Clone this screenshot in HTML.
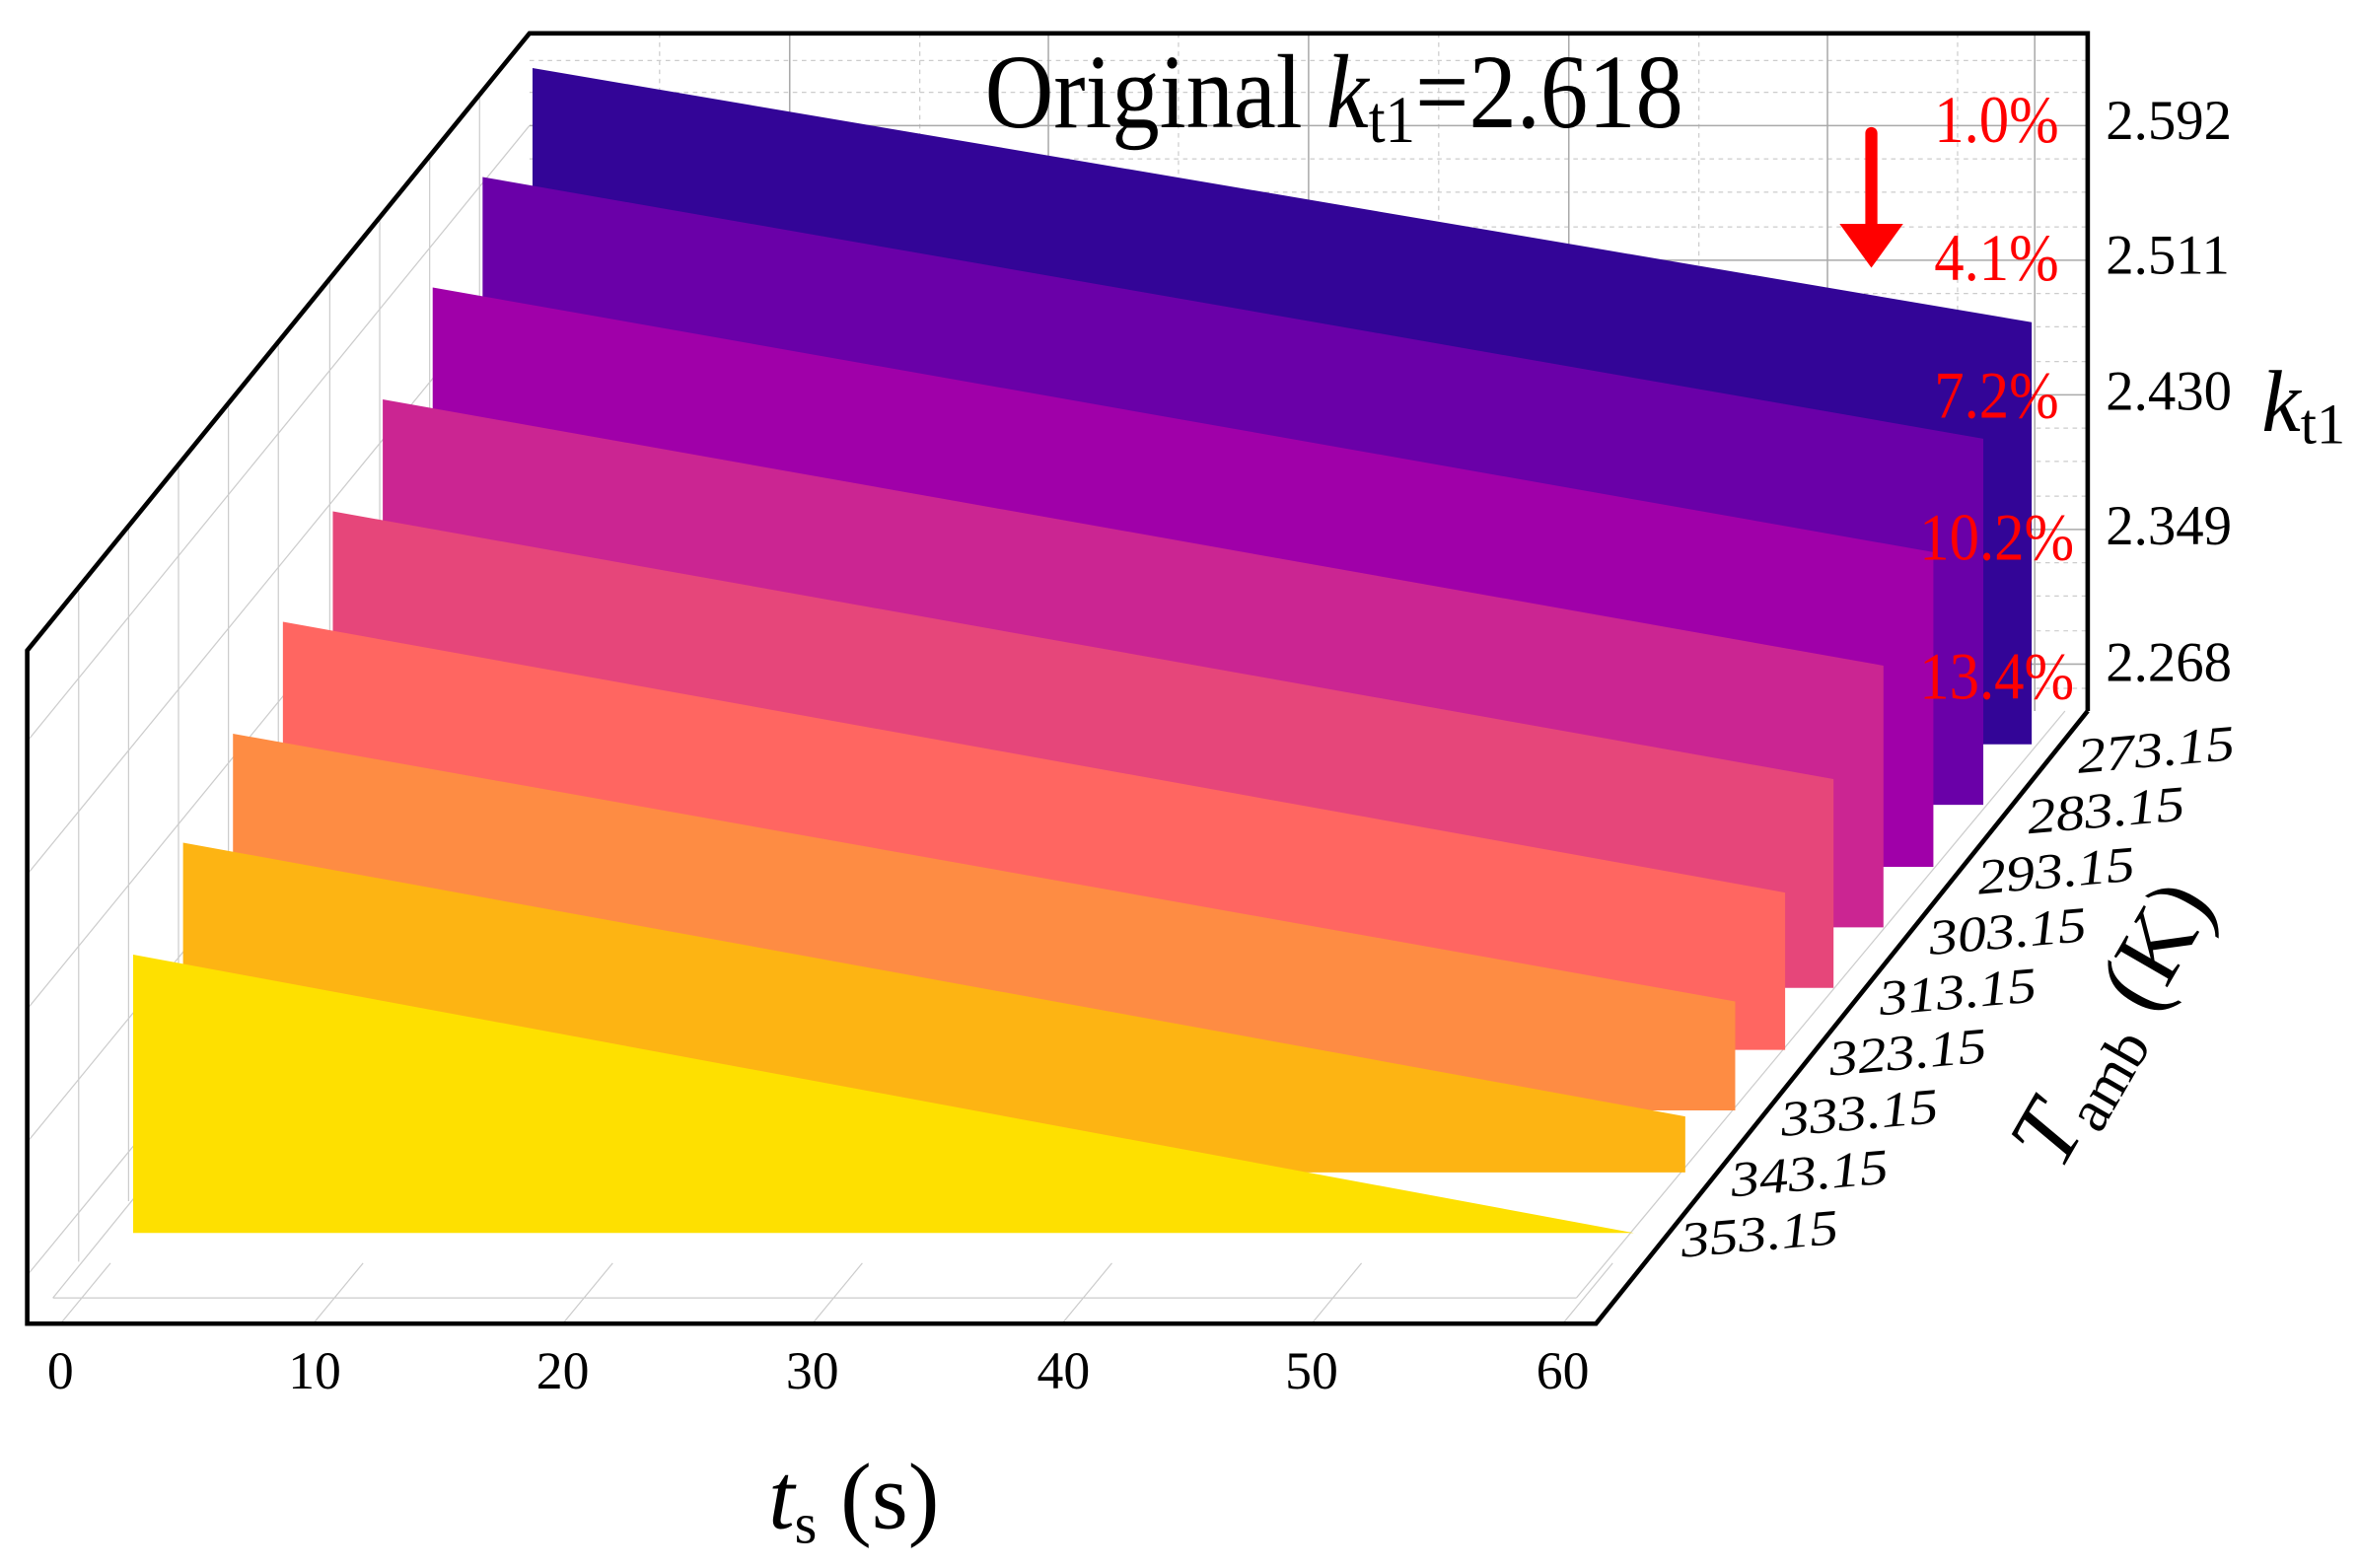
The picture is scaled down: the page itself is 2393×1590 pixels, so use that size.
<!DOCTYPE html>
<html><head><meta charset="utf-8"><style>
html,body{margin:0;padding:0;background:#fff;}
svg{display:block;}
text{font-family:"Liberation Serif",serif;}
</style></head><body>
<svg width="2393" height="1590" viewBox="0 0 1560 1036.5" xmlns="http://www.w3.org/2000/svg">
<rect width="1560" height="1036.5" fill="#fff"/>
<!-- back wall grid -->
<g stroke="#ccc" stroke-width="0.8" stroke-dasharray="3,3">
<line x1="350" y1="40" x2="1380" y2="40"/><line x1="350" y1="61" x2="1380" y2="61"/>
<line x1="350" y1="105" x2="1380" y2="105"/><line x1="350" y1="127" x2="1380" y2="127"/><line x1="350" y1="150" x2="1380" y2="150"/>
<line x1="350" y1="194" x2="1380" y2="194"/><line x1="350" y1="216" x2="1380" y2="216"/><line x1="350" y1="239" x2="1380" y2="239"/>
<line x1="350" y1="283" x2="1380" y2="283"/><line x1="350" y1="305" x2="1380" y2="305"/><line x1="350" y1="328" x2="1380" y2="328"/>
<line x1="350" y1="372" x2="1380" y2="372"/><line x1="350" y1="394" x2="1380" y2="394"/><line x1="350" y1="417" x2="1380" y2="417"/>
<line x1="350" y1="455" x2="1380" y2="455"/>
<line x1="436" y1="22" x2="436" y2="470"/><line x1="608" y1="22" x2="608" y2="470"/><line x1="779" y1="22" x2="779" y2="470"/>
<line x1="951" y1="22" x2="951" y2="470"/><line x1="1123" y1="22" x2="1123" y2="470"/><line x1="1294" y1="22" x2="1294" y2="470"/>
</g>
<g stroke="#aaa" stroke-width="1">
<line x1="350" y1="83" x2="1380" y2="83"/><line x1="350" y1="172" x2="1380" y2="172"/><line x1="350" y1="261" x2="1380" y2="261"/>
<line x1="350" y1="350" x2="1380" y2="350"/><line x1="350" y1="439" x2="1380" y2="439"/>
<line x1="522" y1="22" x2="522" y2="470"/><line x1="693" y1="22" x2="693" y2="470"/><line x1="865" y1="22" x2="865" y2="470"/>
<line x1="1037" y1="22" x2="1037" y2="470"/><line x1="1208" y1="22" x2="1208" y2="470"/>
<line x1="1345" y1="22" x2="1345" y2="470"/>
</g>
<!-- left wall grid -->
<g stroke="#ccc" stroke-width="0.8">
<line x1="317" y1="62" x2="317" y2="510"/><line x1="284" y1="103" x2="284" y2="551"/><line x1="251" y1="144" x2="251" y2="591"/>
<line x1="218" y1="184" x2="218" y2="632"/><line x1="184" y1="225" x2="184" y2="672"/><line x1="151" y1="266" x2="151" y2="713"/>
<line x1="118" y1="307" x2="118" y2="753"/><line x1="85" y1="348" x2="85" y2="794"/><line x1="52" y1="389" x2="52" y2="834"/>
<line x1="350" y1="83" x2="18" y2="490"/><line x1="350" y1="172" x2="18" y2="578"/><line x1="350" y1="261" x2="18" y2="667"/>
<line x1="350" y1="350" x2="18" y2="755"/><line x1="350" y1="439" x2="18" y2="843"/>
<line x1="350" y1="470" x2="35" y2="858"/>
</g>
<!-- floor grid -->
<g stroke="#ccc" stroke-width="0.8">
<line x1="35" y1="858" x2="1042" y2="858"/>
<line x1="1042" y1="858" x2="1365" y2="470"/>
<line x1="207" y1="875" x2="240" y2="835"/><line x1="372" y1="875" x2="405" y2="835"/><line x1="537" y1="875" x2="570" y2="835"/>
<line x1="702" y1="875" x2="735" y2="835"/><line x1="867" y1="875" x2="900" y2="835"/><line x1="1033" y1="875" x2="1066" y2="835"/>
<line x1="40" y1="875" x2="73" y2="835"/>
</g>
<!-- slabs -->
<polygon points="352,45 1343,213 1343,492 352,492" fill="#330597"/>
<polygon points="319,117 1311,290 1311,532 319,532" fill="#6a00a8"/>
<polygon points="286,190 1278,365 1278,573 286,573" fill="#a000a9"/>
<polygon points="253,264 1245,440 1245,613 253,613" fill="#cb2592"/>
<polygon points="220,338 1212,515 1212,653 220,653" fill="#e6467a"/>
<polygon points="187,411 1180,590 1180,694 187,694" fill="#ff6661"/>
<polygon points="154,485 1147,662 1147,734 154,734" fill="#fe8c43"/>
<polygon points="121,557 1114,738 1114,775 121,775" fill="#fdb413"/>
<polygon points="88,631 1080,815 88,815" fill="#fee000"/>
<!-- frame -->
<g stroke="#000" stroke-width="3" fill="none">
<polyline points="1380,470 1380,22 350,22 18,430 18,875 1055,875 1380,470"/>
</g>
<!-- title -->
<g transform="translate(651,84) scale(0.9,1)"><text x="0" y="0" font-size="70">Original <tspan font-style="italic">k</tspan><tspan font-size="44" dy="10">t1</tspan><tspan dy="-10">=2.618</tspan></text></g>
<!-- arrow -->
<line x1="1237" y1="88" x2="1237" y2="152" stroke="#f00" stroke-width="8" stroke-linecap="round"/>
<polygon points="1216,148 1258,148 1237,177" fill="#f00"/>
<!-- percent -->
<g fill="#f00" font-size="44" text-anchor="end">
<g transform="translate(1361,94) scale(0.9,1)"><text>1.0%</text></g>
<g transform="translate(1361,185) scale(0.9,1)"><text>4.1%</text></g>
<g transform="translate(1361,276) scale(0.9,1)"><text>7.2%</text></g>
<g transform="translate(1371,370) scale(0.9,1)"><text>10.2%</text></g>
<g transform="translate(1371,462) scale(0.9,1)"><text>13.4%</text></g>
</g>
<!-- z ticks -->
<g font-size="37">
<text x="1392" y="92">2.592</text>
<text x="1392" y="181">2.511</text>
<text x="1392" y="271">2.430</text>
<text x="1392" y="360">2.349</text>
<text x="1392" y="450">2.268</text>
</g>
<text x="1495" y="285" font-size="58" font-style="italic">k<tspan font-style="normal" font-size="38" dy="8">t1</tspan></text>
<!-- x ticks -->
<g font-size="35" text-anchor="middle">
<text x="40" y="918">0</text><text x="208" y="918">10</text><text x="372" y="918">20</text>
<text x="537" y="918">30</text><text x="703" y="918">40</text><text x="867" y="918">50</text><text x="1033" y="918">60</text>
</g>
<text x="508" y="1010" font-size="62"><tspan font-style="italic">t</tspan><tspan font-size="38" dy="10">s</tspan><tspan dy="-10"> (s)</tspan></text>
<!-- T ticks -->
<g font-size="33" font-style="italic">
<g transform="translate(1374,511) rotate(-5) scale(1.15,1)"><text>273.15</text></g>
<g transform="translate(1341,551) rotate(-5) scale(1.15,1)"><text>283.15</text></g>
<g transform="translate(1308,591) rotate(-5) scale(1.15,1)"><text>293.15</text></g>
<g transform="translate(1276,631) rotate(-5) scale(1.15,1)"><text>303.15</text></g>
<g transform="translate(1243,671) rotate(-5) scale(1.15,1)"><text>313.15</text></g>
<g transform="translate(1210,711) rotate(-5) scale(1.15,1)"><text>323.15</text></g>
<g transform="translate(1178,751) rotate(-5) scale(1.15,1)"><text>333.15</text></g>
<g transform="translate(1145,791) rotate(-5) scale(1.15,1)"><text>343.15</text></g>
<g transform="translate(1112,831) rotate(-5) scale(1.15,1)"><text>353.15</text></g>
</g>
<text x="0" y="0" font-size="62" transform="translate(1362,775) rotate(-60)"><tspan font-style="italic">T</tspan><tspan font-size="40" dy="10">amb</tspan><tspan dy="-10"> (K)</tspan></text>
</svg>
</body></html>
